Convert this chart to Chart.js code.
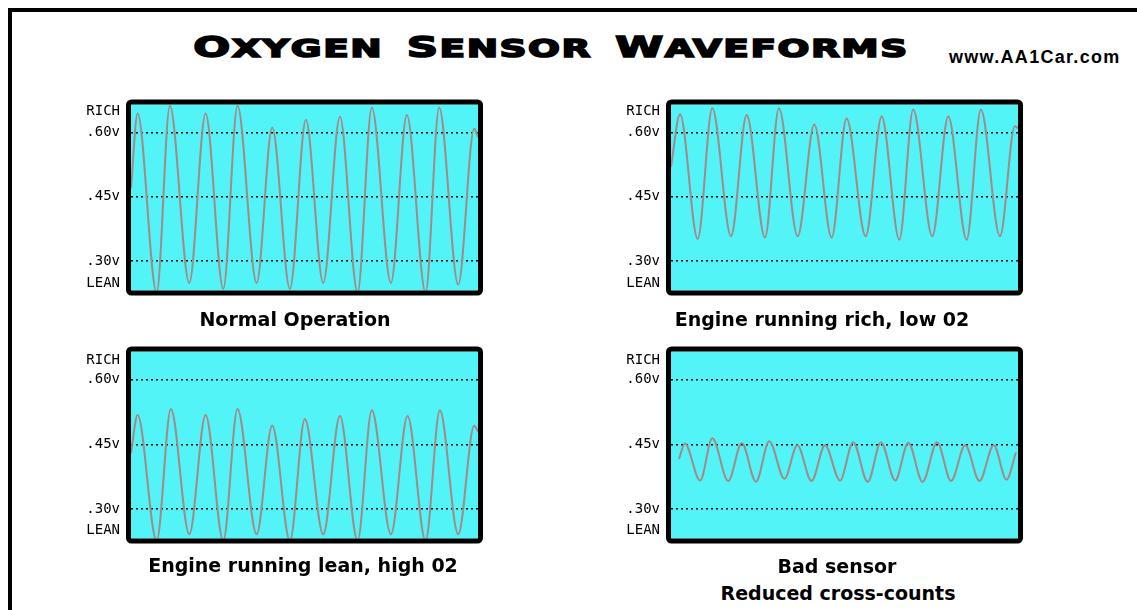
<!DOCTYPE html>
<html>
<head>
<meta charset="utf-8">
<title>Oxygen Sensor Waveforms</title>
<script src="https://cdn.jsdelivr.net/npm/chart.js@4.4.1/dist/chart.umd.min.js"></script>
<style>
html,body{margin:0;padding:0;background:#fff;}
body{width:1137px;height:610px;position:relative;overflow:hidden;font-family:"DejaVu Sans",sans-serif;color:#000;}
.frame{position:absolute;left:8px;top:8px;width:1200px;height:700px;border-left:4px solid #000;border-top:4px solid #000;}
.title{position:absolute;left:551px;top:33px;white-space:nowrap;font-weight:bold;font-size:25px;line-height:1;
  letter-spacing:1px;word-spacing:6px;-webkit-text-stroke:1.6px #000;transform:translateX(-50%) scaleX(1.5);}
.title .big{font-size:29px;}
.url{position:absolute;left:949px;top:48px;font:bold 18px "Liberation Sans",Arial,sans-serif;line-height:1;letter-spacing:1.3px;white-space:nowrap;}
canvas{position:absolute;}
.side{position:absolute;width:60px;text-align:right;font:14px "DejaVu Sans Mono",monospace;line-height:16px;}
.cap{position:absolute;font:bold 19px "DejaVu Sans",sans-serif;line-height:1;white-space:nowrap;transform:translateX(-50%);}
</style>
</head>
<body>
<div class="frame"></div>
<div class="title"><span class="big">O</span>XYGEN <span class="big">S</span>ENSOR <span class="big">W</span>AVEFORMS</div>
<div class="url">www.AA1Car.com</div>

<canvas id="normal" width="430" height="225" style="left:60px;top:85px"></canvas>
<canvas id="rich" width="430" height="225" style="left:600px;top:85px"></canvas>
<canvas id="lean" width="430" height="226" style="left:60px;top:332px"></canvas>
<canvas id="bad" width="430" height="226" style="left:600px;top:332px"></canvas>

<div class="side" style="left:60px;top:102px">RICH</div>
<div class="side" style="left:60px;top:274px">LEAN</div>
<div class="side" style="left:600px;top:102px">RICH</div>
<div class="side" style="left:600px;top:274px">LEAN</div>
<div class="side" style="left:60px;top:351px">RICH</div>
<div class="side" style="left:60px;top:521px">LEAN</div>
<div class="side" style="left:600px;top:351px">RICH</div>
<div class="side" style="left:600px;top:521px">LEAN</div>

<div class="cap" style="left:295px;top:310px">Normal Operation</div>
<div class="cap" style="left:822px;top:310px">Engine running rich, low 02</div>
<div class="cap" style="left:303px;top:556px">Engine running lean, high 02</div>
<div class="cap" style="left:837px;top:557px">Bad sensor</div>
<div class="cap" style="left:838px;top:584px">Reduced cross-counts</div>

<script>
// reference lines on every scope screen
const gridVolts = [0.30, 0.45, 0.60];
const gridLabels = [".30v", ".45v", ".60v"];

const normalTime  = [0, 1.9, 7.4, 11.2, 16.8, 21.5, 26.6, 30.7, 36.2, 40.7, 45.8, 50.4, 55.4, 60.2, 65.3, 69.4, 74.9, 79.5, 84.9, 88.8, 94.3, 98.9, 100];
const normalVolts = [0.47, 0.645, 0.226, 0.663, 0.249, 0.645, 0.235, 0.663, 0.249, 0.612, 0.235, 0.630, 0.249, 0.637, 0.226, 0.659, 0.249, 0.641, 0.226, 0.659, 0.245, 0.609, 0.59];

const richTime  = [0, 2.6, 7.7, 11.9, 17.3, 21.8, 27.1, 31.1, 36.5, 41.3, 46.3, 50.6, 56.1, 60.7, 65.8, 69.8, 75.3, 79.9, 85.2, 89.3, 94.8, 99.1, 100];
const richVolts = [0.52, 0.643, 0.352, 0.657, 0.358, 0.641, 0.355, 0.657, 0.358, 0.619, 0.355, 0.633, 0.358, 0.638, 0.350, 0.654, 0.358, 0.638, 0.350, 0.654, 0.358, 0.615, 0.61];

const leanTime  = [0, 1.9, 7.4, 11.5, 16.8, 21.5, 26.6, 30.7, 36.2, 40.7, 45.8, 50.1, 55.4, 60.2, 65.3, 69.4, 74.9, 79.7, 84.9, 89.0, 94.3, 98.9, 100];
const leanVolts = [0.43, 0.518, 0.226, 0.532, 0.241, 0.518, 0.226, 0.532, 0.241, 0.494, 0.226, 0.509, 0.241, 0.516, 0.226, 0.529, 0.241, 0.516, 0.226, 0.529, 0.241, 0.493, 0.48];

const badTime  = [2.3, 4.0, 8.4, 11.9, 16.5, 20.4, 24.5, 28.3, 32.7, 36.4, 40.5, 44.4, 48.7, 52.5, 56.7, 60.5, 64.6, 68.4, 72.5, 76.7, 80.7, 84.8, 88.9, 93.0, 96.7, 99.4];
const badVolts = [0.416, 0.452, 0.366, 0.464, 0.365, 0.453, 0.363, 0.457, 0.370, 0.448, 0.365, 0.448, 0.366, 0.455, 0.363, 0.455, 0.366, 0.454, 0.363, 0.455, 0.365, 0.448, 0.365, 0.448, 0.368, 0.431];

const CYAN = "#52f4f7";
const TRACE = "#a58888";

const screenPlugin = {
  id: "screen",
  beforeDraw(chart){
    const {ctx, chartArea:a} = chart;
    ctx.save();
    ctx.fillStyle = CYAN;
    ctx.fillRect(a.left, a.top, a.right - a.left, a.bottom - a.top);
    ctx.restore();
  },
  afterDraw(chart){
    const {ctx, chartArea:a} = chart;
    ctx.save();
    ctx.lineWidth = 5;
    ctx.strokeStyle = "#000";
    ctx.lineJoin = "round";
    ctx.beginPath();
    ctx.roundRect(a.left - 2.5, a.top - 2.5, a.right - a.left + 5, a.bottom - a.top + 5, 3);
    ctx.stroke();
    ctx.restore();
  }
};

function scope(id, times, volts){
  return new Chart(document.getElementById(id), {
    type: "line",
    data: { datasets: [{
      data: times.map((t, i) => ({x: t, y: volts[i]})),
      borderColor: TRACE, borderWidth: 2, pointRadius: 0,
      cubicInterpolationMode: "monotone", fill: false
    }]},
    options: {
      responsive: false, animation: false, events: [],
      layout: { padding: { top: 13, right: 12, bottom: 10, left: 0 } },
      plugins: { legend: { display: false }, tooltip: { enabled: false } },
      scales: {
        x: { type: "linear", min: 0, max: 100, display: false },
        y: {
          min: 0.231, max: 0.666,
          afterBuildTicks: (axis) => { axis.ticks = gridVolts.map(v => ({value: v})); },
          afterFit: (axis) => { axis.width = 71; },
          ticks: { callback: (v, i) => gridLabels[i], color: "#000", padding: 11,
                   font: { family: "DejaVu Sans Mono", size: 14 } },
          grid: { color: "#000", lineWidth: 1.5, drawTicks: false },
          border: { display: false, dash: [2, 3] }
        }
      }
    },
    plugins: [screenPlugin]
  });
}

scope("normal", normalTime, normalVolts);
scope("rich", richTime, richVolts);
scope("lean", leanTime, leanVolts);
scope("bad", badTime, badVolts);
</script>
</body>
</html>
